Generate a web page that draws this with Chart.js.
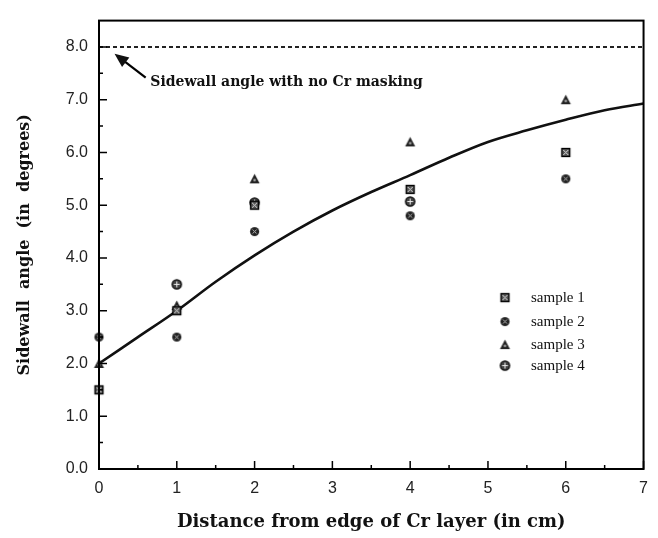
<!DOCTYPE html>
<html>
<head>
<meta charset="utf-8">
<script src="https://cdn.jsdelivr.net/npm/chart.js@4/dist/chart.umd.min.js"></script>
<style>
  html, body { margin: 0; padding: 0; background: #fff; }
  #wrap { width: 658px; height: 538px; position: relative; }
</style>
</head>
<body>
<div id="wrap"><canvas id="c" width="658" height="538"></canvas></div>
<script>
// ---- data ----
const xPositions = [0, 1, 2, 4, 6];
const sample1 = [1.5, 3.0, 5.0, 5.3, 6.0];
const sample2 = [2.5, 2.5, 4.5, 4.8, 5.5];
const sample3 = [2.0, 3.1, 5.5, 6.2, 7.0];
const sample4 = [null, 3.5, 5.05, 5.07, null];
const seriesNames = ['sample 1', 'sample 2', 'sample 3', 'sample 4'];
const fitX = [0, 0.5, 1, 1.5, 2, 2.5, 3, 3.5, 4, 4.5, 5, 5.5, 6, 6.5, 7];
const fitY = [2.0, 2.5, 3.0, 3.55, 4.05, 4.5, 4.9, 5.25, 5.57, 5.9, 6.2, 6.42, 6.62, 6.8, 6.93];
const noMaskAngle = 8.0;
const xTicks = [0, 1, 2, 3, 4, 5, 6, 7];
const yTicks = [0, 1, 2, 3, 4, 5, 6, 7, 8];
const annotationText = 'Sidewall angle with no Cr masking';
const xTitle = 'Distance from edge of Cr layer (in cm)';
const yTitle = 'Sidewall  angle  (in  degrees)';

const SERIF_BOLD = '"DejaVu Serif", "Liberation Serif", serif';

// ---- marker images ----
function makeMarker(kind) {
  const s = 13, c = document.createElement('canvas');
  c.width = s; c.height = s;
  const g = c.getContext('2d');
  const m = s / 2;
  g.fillStyle = '#222'; g.strokeStyle = '#000'; g.lineWidth = 1.3;
  if (kind === 'square') {
    g.fillStyle = '#555';
    g.fillRect(2, 2, 9, 9);
    g.strokeRect(2.5, 2.5, 8, 8);
    g.strokeStyle = '#ddd'; g.lineWidth = 1;
    g.beginPath(); g.moveTo(4, 4); g.lineTo(9, 9); g.moveTo(9, 4); g.lineTo(4, 9); g.stroke();
  } else if (kind === 'circle') {
    g.beginPath(); g.arc(m, m, 4.6, 0, Math.PI * 2); g.fill();
    g.strokeStyle = '#bbb'; g.lineWidth = 1;
    g.beginPath(); g.moveTo(m - 2, m - 2); g.lineTo(m + 2, m + 2); g.moveTo(m + 2, m - 2); g.lineTo(m - 2, m + 2); g.stroke();
  } else if (kind === 'triangle') {
    g.beginPath(); g.moveTo(m, 1.5); g.lineTo(11.5, 11); g.lineTo(1.5, 11); g.closePath(); g.fill();
    g.fillStyle = '#aaa';
    g.beginPath(); g.arc(m, 7.8, 1.3, 0, Math.PI * 2); g.fill();
  } else {
    g.fillStyle = '#444';
    g.beginPath(); g.arc(m, m, 4.6, 0, Math.PI * 2); g.fill(); g.stroke();
    g.strokeStyle = '#eee'; g.lineWidth = 1;
    g.beginPath(); g.moveTo(m, m - 3); g.lineTo(m, m + 3); g.moveTo(m - 3, m); g.lineTo(m + 3, m); g.stroke();
  }
  return c;
}
const markers = [makeMarker('square'), makeMarker('circle'), makeMarker('triangle'), makeMarker('plus')];

function pts(ys) { return xPositions.map((x, i) => ({ x: x, y: ys[i] })).filter(p => p.y !== null); }

const sampleSeries = [sample1, sample2, sample3, sample4];
const datasets = [
  {
    label: 'fit', type: 'line',
    data: fitX.map((x, i) => ({ x: x, y: fitY[i] })),
    borderColor: '#111', borderWidth: 2.6, pointRadius: 0, tension: 0.35, fill: false, order: 2
  },
  {
    label: 'no mask', type: 'line',
    data: [{ x: 0, y: noMaskAngle }, { x: 7, y: noMaskAngle }],
    borderColor: '#222', borderWidth: 2, borderDash: [4, 3], pointRadius: 0, fill: false, order: 3
  }
];
sampleSeries.forEach((ys, k) => {
  datasets.push({
    label: seriesNames[k], type: 'scatter', data: pts(ys),
    pointStyle: markers[k], pointRadius: 6, order: 1, clip: false
  });
});

const frameAndTicks = {
  id: 'frameAndTicks',
  afterDatasetsDraw(chart) {
    const { ctx, chartArea: a, scales } = chart;
    const xs = scales.x, ys = scales.y;
    ctx.save();
    ctx.strokeStyle = '#000';
    ctx.lineWidth = 2;
    ctx.strokeRect(a.left, a.top, a.right - a.left, a.bottom - a.top);
    ctx.lineWidth = 1.5;
    ctx.beginPath();
    for (let v = 0; v <= 8.0001; v += 0.5) {
      const y = ys.getPixelForValue(v);
      const len = Number.isInteger(v) ? 8 : 4;
      ctx.moveTo(a.left, y); ctx.lineTo(a.left + len, y);
    }
    for (let v = 0; v <= 7.0001; v += 0.5) {
      const x = xs.getPixelForValue(v);
      const len = Number.isInteger(v) ? 8 : 4;
      ctx.moveTo(x, a.bottom); ctx.lineTo(x, a.bottom - len);
    }
    ctx.stroke();

    // annotation arrow + text
    const tipX = xs.getPixelForValue(0.2), tipY = ys.getPixelForValue(7.87);
    const tailX = xs.getPixelForValue(0.6), tailY = ys.getPixelForValue(7.42);
    const ang = Math.atan2(tipY - tailY, tipX - tailX);
    ctx.lineWidth = 2.2;
    ctx.beginPath(); ctx.moveTo(tailX, tailY); ctx.lineTo(tipX - 8 * Math.cos(ang), tipY - 8 * Math.sin(ang)); ctx.stroke();
    ctx.fillStyle = '#111';
    ctx.beginPath();
    ctx.moveTo(tipX, tipY);
    ctx.lineTo(tipX - 14 * Math.cos(ang) + 6 * Math.sin(ang), tipY - 14 * Math.sin(ang) - 6 * Math.cos(ang));
    ctx.lineTo(tipX - 14 * Math.cos(ang) - 6 * Math.sin(ang), tipY - 14 * Math.sin(ang) + 6 * Math.cos(ang));
    ctx.closePath(); ctx.fill();
    ctx.font = 'bold 14px ' + SERIF_BOLD;
    ctx.textBaseline = 'middle';
    ctx.textAlign = 'left';
    ctx.fillText(annotationText, xs.getPixelForValue(0.66), ys.getPixelForValue(7.33));

    // legend inside plot
    const lx = a.left + 406, ly0 = a.top + 277;
    const gaps = [0, 24, 47, 68];
    ctx.font = '15px "Liberation Serif", "DejaVu Serif", serif';
    seriesNames.forEach((n, i) => {
      const y = ly0 + gaps[i];
      ctx.drawImage(markers[i], lx - 6.5, y - 6.5);
      ctx.fillText(n, lx + 26, y);
    });
    ctx.restore();
  }
};

new Chart(document.getElementById('c'), {
  type: 'scatter',
  data: { datasets: datasets },
  options: {
    responsive: false,
    animation: false,
    devicePixelRatio: 1,
    layout: { padding: { left: 0, top: 8, right: 14, bottom: 0 } },
    plugins: { legend: { display: false }, tooltip: { enabled: false } },
    scales: {
      x: {
        type: 'linear', min: 0, max: 7,
        afterBuildTicks(s) { s.ticks = xTicks.map(v => ({ value: v })); },
        afterFit(s) { s.height = 69; },
        grid: { display: false, drawTicks: false },
        border: { display: false },
        ticks: { color: '#222', padding: 10, font: { family: '"Liberation Sans", Arial, sans-serif', size: 16 }, callback: v => String(v) },
        title: { display: true, text: xTitle, color: '#111', padding: { top: 0, bottom: 5 },
          font: { family: SERIF_BOLD, size: 18, weight: 'bold' } }
      },
      y: {
        type: 'linear', min: 0, max: 8.5,
        afterBuildTicks(s) { s.ticks = yTicks.map(v => ({ value: v })); },
        afterFit(s) { s.width = 99; },
        grid: { display: false, drawTicks: false },
        border: { display: false },
        ticks: { color: '#222', padding: 11, font: { family: '"Liberation Sans", Arial, sans-serif', size: 16 }, callback: v => Number(v).toFixed(1) },
        title: { display: true, text: yTitle, color: '#111', padding: { top: 15, bottom: 0 },
          font: { family: SERIF_BOLD, size: 16, weight: 'bold' } }
      }
    }
  },
  plugins: [frameAndTicks]
});
</script>
</body>
</html>
